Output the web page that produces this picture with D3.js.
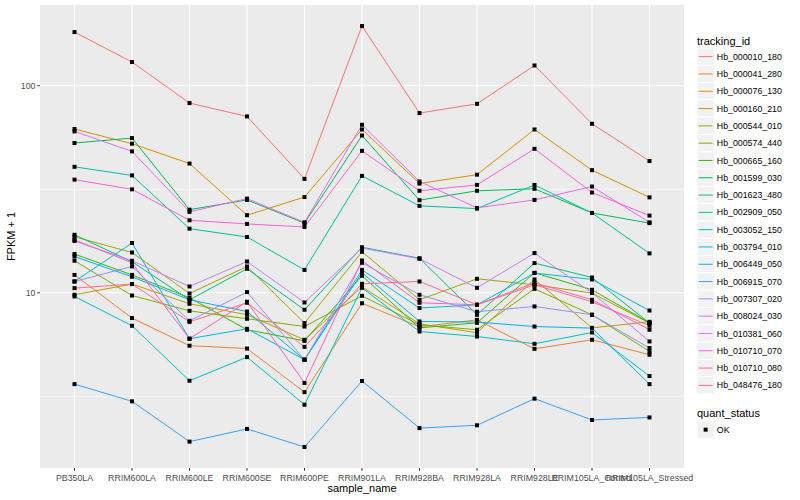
<!DOCTYPE html>
<html lang="en">
<head>
<meta charset="UTF-8">
<script src="https://d3js.org/d3.v7.min.js"></script>
<style>
  body { margin: 0; background: #fff; }
  text { font-family: "Liberation Sans", Arial, sans-serif; }
</style>
</head>
<body>
<svg id="graph" width="800" height="500"></svg>
<script>
const samples = ["PB350LA", "RRIM600LA", "RRIM600LE", "RRIM600SE", "RRIM600PE", "RRIM901LA",
                 "RRIM928BA", "RRIM928LA", "RRIM928LE", "RRIM105LA_Control", "RRIM105LA_Stressed"];

const trackingIds = ["Hb_000010_180", "Hb_000041_280", "Hb_000076_130", "Hb_000160_210", "Hb_000544_010",
                     "Hb_000574_440", "Hb_000665_160", "Hb_001599_030", "Hb_001623_480", "Hb_002909_050",
                     "Hb_003052_150", "Hb_003794_010", "Hb_006449_050", "Hb_006915_070", "Hb_007307_020",
                     "Hb_008024_030", "Hb_010381_060", "Hb_010710_070", "Hb_010710_080", "Hb_048476_180"];

// ggplot hue palette, 20 levels
const palette = ["#F8766D", "#EA8331", "#D89000", "#C09B00", "#A3A500", "#7CAE00", "#39B600", "#00BB4E",
                 "#00BF7D", "#00C1A3", "#00BFC4", "#00BAE0", "#00B0F6", "#35A2FF", "#9590FF", "#C77CFF",
                 "#E76BF3", "#FA62DB", "#FF62BC", "#FF6C91"];

// FPKM + 1, one value per sample
const hb_000010_180 = [181.7, 130.2, 82.5, 71.1, 35.5, 194.3, 73.8, 81.8, 125.3, 65.5, 43.3];
const hb_000041_280 = [12.2, 7.55, 5.55, 5.38, 3.31, 8.9, 6.85, 7.4, 5.36, 5.93, 5.02];
const hb_000076_130 = [61.8, 52.5, 42.1, 23.7, 29.0, 61.5, 33.7, 37.2, 61.5, 39.1, 28.9];
const hb_000160_210 = [9.78, 11.02, 8.85, 7.83, 5.93, 10.69, 7.08, 6.41, 11.6, 6.77, 7.24];
const hb_000544_010 = [18.64, 15.65, 9.92, 13.4, 7.14, 15.78, 9.25, 11.68, 10.93, 9.97, 7.14];
const hb_000574_440 = [14.28, 9.7, 8.18, 7.49, 6.87, 9.67, 7.0, 6.63, 10.45, 7.83, 5.21];
const hb_000665_160 = [15.38, 12.2, 9.46, 6.63, 5.86, 12.08, 6.77, 7.16, 12.49, 10.34, 7.16];
const hb_001599_030 = [52.9, 55.9, 25.2, 28.1, 21.7, 57.5, 28.0, 31.1, 31.8, 24.3, 21.7];
const hb_001623_480 = [19.06, 14.12, 9.25, 13.06, 8.28, 16.59, 14.68, 7.83, 13.91, 11.85, 7.14];
const hb_002909_050 = [40.6, 36.9, 20.4, 18.6, 12.9, 36.7, 26.3, 25.5, 33.2, 24.3, 15.5];
const hb_003052_150 = [9.6, 6.93, 3.76, 4.89, 2.88, 10.57, 6.5, 6.15, 5.67, 6.43, 3.96];
const hb_003794_010 = [11.34, 17.4, 6.0, 6.7, 4.75, 12.9, 8.44, 8.75, 12.45, 11.6, 8.21];
const hb_006449_050 = [14.97, 11.95, 9.25, 8.12, 4.75, 12.49, 7.27, 7.22, 6.87, 6.75, 3.62];
const hb_006915_070 = [3.62, 2.99, 1.91, 2.2, 1.8, 3.75, 2.22, 2.29, 3.08, 2.43, 2.5];
const hb_007307_020 = [11.34, 13.4, 7.32, 10.08, 4.75, 13.96, 9.78, 8.1, 8.59, 7.83, 5.41];
const hb_008024_030 = [17.8, 14.28, 10.73, 14.16, 8.98, 16.44, 14.6, 10.57, 15.55, 10.0, 5.82];
const hb_010381_060 = [60.2, 48.2, 24.6, 28.5, 21.9, 64.8, 34.5, 25.7, 28.1, 32.6, 21.9];
const hb_010710_070 = [35.2, 31.6, 22.4, 21.5, 20.8, 48.5, 31.1, 33.2, 49.6, 30.5, 23.6];
const hb_010710_080 = [18.03, 13.96, 6.0, 9.05, 3.67, 14.32, 8.95, 8.75, 11.18, 9.25, 6.63];
const hb_048476_180 = [10.53, 11.02, 7.24, 8.95, 5.48, 11.05, 11.34, 8.75, 10.93, 9.05, 6.93];

const seriesValues = [hb_000010_180, hb_000041_280, hb_000076_130, hb_000160_210, hb_000544_010,
                      hb_000574_440, hb_000665_160, hb_001599_030, hb_001623_480, hb_002909_050,
                      hb_003052_150, hb_003794_010, hb_006449_050, hb_006915_070, hb_007307_020,
                      hb_008024_030, hb_010381_060, hb_010710_070, hb_010710_080, hb_048476_180];

const quantStatus = ["OK"];
const yTicks = [10, 100];

function plot() {
    const svg = d3.select("#graph");
    const panel = {left: 40, right: 684, top: 5, bottom: 468};

    svg.append("rect").attr("width", 800).attr("height", 500).attr("fill", "#fff");

    const x = d3.scalePoint()
        .domain(samples)
        .range([panel.left, panel.right])
        .padding(0.6);

    // log scale, 5% expansion like ggplot
    const all = seriesValues.flat();
    const lo = Math.log10(d3.min(all)), hi = Math.log10(d3.max(all));
    const pad = (hi - lo) * 0.05;
    const y = d3.scaleLog()
        .domain([Math.pow(10, lo - pad), Math.pow(10, hi + pad)])
        .range([panel.bottom, panel.top]);

    svg.append("rect")
        .attr("x", panel.left).attr("y", panel.top)
        .attr("width", panel.right - panel.left).attr("height", panel.bottom - panel.top)
        .attr("fill", "#EBEBEB");

    // minor grid at half decades
    const minor = [Math.pow(10, 0.5), Math.pow(10, 1.5)];
    svg.append("g").selectAll("line").data(minor).enter().append("line")
        .attr("x1", panel.left).attr("x2", panel.right)
        .attr("y1", d => y(d)).attr("y2", d => y(d))
        .attr("stroke", "#fff").attr("stroke-width", 0.55);

    svg.append("g").selectAll("line").data(yTicks).enter().append("line")
        .attr("x1", panel.left).attr("x2", panel.right)
        .attr("y1", d => y(d)).attr("y2", d => y(d))
        .attr("stroke", "#fff").attr("stroke-width", 1.1);

    svg.append("g").selectAll("line").data(samples).enter().append("line")
        .attr("x1", d => x(d)).attr("x2", d => x(d))
        .attr("y1", panel.top).attr("y2", panel.bottom)
        .attr("stroke", "#fff").attr("stroke-width", 1.1);

    // lines
    const lnMkr = d3.line()
        .x((d, i) => x(samples[i]))
        .y(d => y(d));

    seriesValues.forEach((vals, k) => {
        svg.append("path")
            .attr("fill", "none")
            .attr("stroke", palette[k])
            .attr("stroke-width", 1)
            .attr("d", lnMkr(vals));
    });

    // points
    seriesValues.forEach(vals => {
        svg.append("g").selectAll("rect").data(vals).enter().append("rect")
            .attr("x", (d, i) => x(samples[i]) - 2)
            .attr("y", d => y(d) - 2)
            .attr("width", 4).attr("height", 4)
            .attr("fill", "#000");
    });

    // y axis
    const yAxis = svg.append("g");
    yAxis.selectAll("line").data(yTicks).enter().append("line")
        .attr("x1", panel.left - 2.7).attr("x2", panel.left)
        .attr("y1", d => y(d)).attr("y2", d => y(d))
        .attr("stroke", "#333").attr("stroke-width", 1);
    yAxis.selectAll("text").data(yTicks).enter().append("text")
        .attr("x", panel.left - 4.5).attr("y", d => y(d))
        .attr("dy", "0.35em")
        .attr("text-anchor", "end")
        .attr("font-size", 8.8).attr("fill", "#4D4D4D")
        .text(d => d);

    // x axis
    const xAxis = svg.append("g");
    xAxis.selectAll("line").data(samples).enter().append("line")
        .attr("x1", d => x(d)).attr("x2", d => x(d))
        .attr("y1", panel.bottom).attr("y2", panel.bottom + 2.7)
        .attr("stroke", "#333").attr("stroke-width", 1);
    xAxis.selectAll("text").data(samples).enter().append("text")
        .attr("x", d => x(d)).attr("y", panel.bottom + 12.5)
        .attr("text-anchor", "middle")
        .attr("font-size", 8.8).attr("fill", "#4D4D4D")
        .text(d => d);

    svg.append("text")
        .attr("x", (panel.left + panel.right) / 2).attr("y", 492)
        .attr("text-anchor", "middle").attr("font-size", 11).attr("fill", "#000")
        .text("sample_name");

    svg.append("text")
        .attr("transform", "translate(15," + ((panel.top + panel.bottom) / 2) + ") rotate(-90)")
        .attr("text-anchor", "middle").attr("font-size", 11).attr("fill", "#000")
        .text("FPKM + 1");

    // legend
    const lgX = 697, keyH = 17.3, keyW = 17.3, lgTop = 48;
    svg.append("text")
        .attr("x", lgX).attr("y", 44.5)
        .attr("font-size", 11).attr("fill", "#000")
        .text("tracking_id");

    const rows = svg.append("g").selectAll("g").data(trackingIds).enter().append("g")
        .attr("transform", (d, i) => "translate(" + lgX + "," + (lgTop + i * keyH) + ")");
    rows.append("rect")
        .attr("width", keyW).attr("height", keyH)
        .attr("fill", "#F2F2F2").attr("stroke", "#fff").attr("stroke-width", 1);
    rows.append("line")
        .attr("x1", 1.7).attr("x2", keyW - 1.7)
        .attr("y1", keyH / 2).attr("y2", keyH / 2)
        .attr("stroke", (d, i) => palette[i]).attr("stroke-width", 1);
    rows.append("text")
        .attr("x", keyW + 2.5).attr("y", keyH / 2).attr("dy", "0.35em")
        .attr("font-size", 8.8).attr("fill", "#000")
        .text(d => d);

    const qTop = 421;
    svg.append("text")
        .attr("x", lgX).attr("y", 416.5)
        .attr("font-size", 11).attr("fill", "#000")
        .text("quant_status");
    const qRows = svg.append("g").selectAll("g").data(quantStatus).enter().append("g")
        .attr("transform", (d, i) => "translate(" + lgX + "," + (qTop + i * keyH) + ")");
    qRows.append("rect")
        .attr("width", keyW).attr("height", keyH)
        .attr("fill", "#F2F2F2").attr("stroke", "#fff").attr("stroke-width", 1);
    qRows.append("rect")
        .attr("x", keyW / 2 - 2).attr("y", keyH / 2 - 2)
        .attr("width", 4).attr("height", 4).attr("fill", "#000");
    qRows.append("text")
        .attr("x", keyW + 2.5).attr("y", keyH / 2).attr("dy", "0.35em")
        .attr("font-size", 8.8).attr("fill", "#000")
        .text(d => d);
}

plot();
</script>
</body>
</html>
